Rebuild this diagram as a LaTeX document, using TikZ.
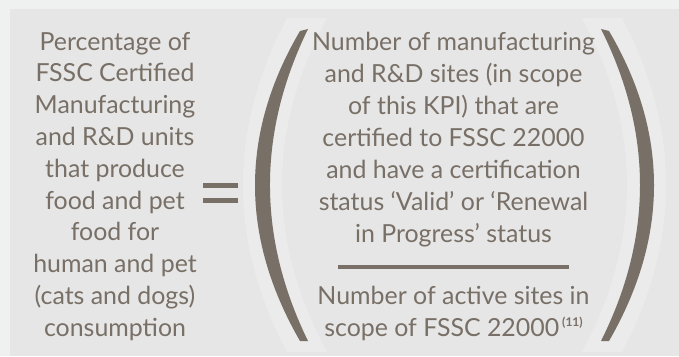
\documentclass[tikz,border=0pt]{standalone}
\usepackage{fontspec}
\setmainfont{Lato}
\definecolor{ink}{HTML}{786F66}
\definecolor{frame}{HTML}{EFF1F0}
\definecolor{panel}{HTML}{E6E6E6}
\definecolor{halo}{HTML}{EAEBEA}
\begin{document}
\begin{tikzpicture}[x=1pt,y=-1pt,
  txt/.style={text=ink, font=\fontsize{24.9}{28}\selectfont, inner sep=0pt, anchor=base},
  bar/.style={fill=ink}]
\useasboundingbox (0,0) rectangle (679,356);
\fill[frame] (0,0) rectangle (679,356);
\fill[panel] (10,9) rectangle (679,356);
% halos
\fill[halo] (287,18) .. controls (228.3,129.3) and (228.3,240.7) .. (287,352) -- (327,352) .. controls (267,240.7) and (267,129.3) .. (327,18) -- cycle;
\fill[halo] (582,18) .. controls (642,129.3) and (642,240.7) .. (582,352) -- (622,352) .. controls (680.7,240.7) and (680.7,129.3) .. (622,18) -- cycle;
% parentheses
\fill[ink] (300,31) .. controls (240,133) and (240,237) .. (300,341) -- (308,341) .. controls (257.3,237) and (257.3,133) .. (308,29) -- cycle;
\fill[ink] (601,29) .. controls (653,133) and (653,237) .. (601,341) -- (609,341) .. controls (669,237) and (669,133) .. (609,31) -- cycle;
% equals sign and fraction bar
\fill[bar] (203,183) rectangle (238,188);
\fill[bar] (203,197.5) rectangle (238,202.5);
\fill[bar] (338,264.5) rectangle (569,269);
% left text
\foreach \t [count=\i] in {{Percentage of},{FSSC Certified},{Manufacturing},{and R\&D units},{that produce},{food and pet},{food for},{human and pet},{(cats and dogs)},{consumption}}
  \node[txt] (L\i) at ({115},{50+31.8*(\i-1)}) {\t};
% numerator
\foreach \t [count=\i] in {{Number of manufacturing},{and R\&D sites (in scope},{of this KPI) that are},{certified to FSSC 22000},{and have a certification},{status ‘Valid’ or ‘Renewal},{in Progress’ status}}
  \node[txt] (N\i) at ({453.5},{50+32*(\i-1)}) {\t};
% denominator
\node[txt] (D1) at (453.5,304) {Number of active sites in};
\node[txt] (D2) at (453.5,336) {scope of FSSC 22000\hspace{3pt}\raisebox{9.5pt}{\fontsize{12}{12}\selectfont\bfseries (11)}};
\end{tikzpicture}
\end{document}
